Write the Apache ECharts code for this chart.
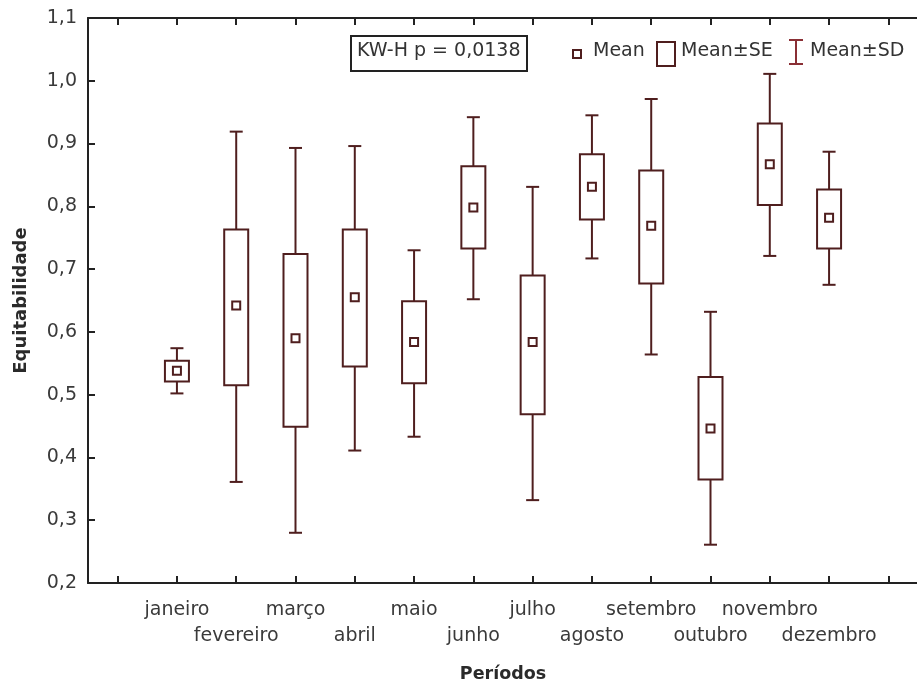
<!DOCTYPE html>
<html>
<head>
<meta charset="utf-8">
<script src="https://cdn.jsdelivr.net/npm/echarts@6/dist/echarts.min.js"></script>
<style>
    html, body { margin: 0; padding: 0; background: #fff; }
    #chart { width: 917px; height: 682px; }
</style>
</head>
<body>
<div id="chart"></div>
<script>
// first and last slots are empty, as in the original plot
var periods = ['', 'janeiro', 'fevereiro', 'março', 'abril', 'maio', 'junho',
    'julho', 'agosto', 'setembro', 'outubro', 'novembro', 'dezembro', ' '];
var means  = [0.538, 0.642, 0.590, 0.655, 0.584, 0.798, 0.584, 0.831, 0.769, 0.446, 0.867, 0.782];
var seLow  = [0.521, 0.515, 0.449, 0.545, 0.518, 0.733, 0.469, 0.779, 0.677, 0.365, 0.802, 0.733];
var seHigh = [0.554, 0.763, 0.724, 0.763, 0.649, 0.864, 0.690, 0.883, 0.857, 0.528, 0.932, 0.827];
var sdLow  = [0.502, 0.361, 0.280, 0.411, 0.433, 0.652, 0.332, 0.717, 0.564, 0.261, 0.721, 0.675];
var sdHigh = [0.574, 0.919, 0.893, 0.896, 0.730, 0.942, 0.831, 0.945, 0.971, 0.632, 1.011, 0.887];
var yTicks = { min: 0.2, max: 1.1, step: 0.1 };
var testLabel = 'KW-H p = 0,0138';

var boxColor = '#4f1e1e';
var font = 'DejaVu Sans';

var seriesData = [];
for (var i = 0; i < means.length; i++) {
    seriesData.push([i + 1, means[i], seLow[i], seHigh[i], sdLow[i], sdHigh[i]]);
}

function renderBox(params, api) {
    var x = api.value(0);
    var mean = api.coord([x, api.value(1)]);
    var cx = mean[0];
    var y = function (dim) { return api.coord([x, api.value(dim)])[1]; };
    var bw = 24, cw = 13, ms = 8;
    var st = { stroke: boxColor, lineWidth: 2, fill: null };
    return {
        type: 'group',
        children: [
            { type: 'line', shape: { x1: cx, y1: y(5), x2: cx, y2: y(3) }, style: st },
            { type: 'line', shape: { x1: cx, y1: y(2), x2: cx, y2: y(4) }, style: st },
            { type: 'line', shape: { x1: cx - cw / 2, y1: y(5), x2: cx + cw / 2, y2: y(5) }, style: st },
            { type: 'line', shape: { x1: cx - cw / 2, y1: y(4), x2: cx + cw / 2, y2: y(4) }, style: st },
            { type: 'rect', shape: { x: cx - bw / 2, y: y(3), width: bw, height: y(2) - y(3) },
                style: { stroke: boxColor, lineWidth: 2, fill: '#fff' } },
            { type: 'rect', shape: { x: cx - ms / 2, y: mean[1] - ms / 2, width: ms, height: ms }, style: st }
        ]
    };
}

var chart = echarts.init(document.getElementById('chart'));

var tickStyle = { show: true, inside: true, alignWithLabel: true, interval: 0, length: 7,
    lineStyle: { color: '#222', width: 2 } };

var option = {
    backgroundColor: '#fff',
    animation: false,
    grid: { left: 88, top: 18, bottom: 99, width: 830, outerBoundsMode: 'none' },
    xAxis: [
        {
            type: 'category',
            data: periods,
            position: 'bottom',
            name: 'Períodos',
            nameLocation: 'middle',
            nameGap: 82,
            nameTextStyle: { fontFamily: font, fontSize: 17.5, fontWeight: 'bold', color: '#2a2a2a' },
            axisLine: { lineStyle: { color: '#222', width: 2 } },
            axisTick: tickStyle,
            axisLabel: {
                interval: 0,
                margin: 14,
                fontFamily: font,
                fontSize: 19,
                lineHeight: 26,
                color: '#3a3a3a',
                formatter: function (v, idx) { return idx % 2 === 0 ? '\n' + v : v; }
            },
            splitLine: { show: false }
        },
        {
            type: 'category',
            data: periods,
            position: 'top',
            axisLine: { lineStyle: { color: '#222', width: 2 } },
            axisTick: tickStyle,
            axisLabel: { show: false },
            splitLine: { show: false }
        }
    ],
    yAxis: {
        type: 'value',
        min: yTicks.min,
        max: yTicks.max,
        interval: yTicks.step,
        name: 'Equitabilidade',
        nameLocation: 'middle',
        nameGap: 58,
        nameTextStyle: { fontFamily: font, fontSize: 18, fontWeight: 'bold', color: '#2a2a2a' },
        axisLine: { show: true, lineStyle: { color: '#222', width: 2 } },
        axisTick: { show: true, inside: true, length: 7, lineStyle: { color: '#222', width: 2 } },
        axisLabel: {
            margin: 11,
            fontFamily: font,
            fontSize: 19,
            color: '#3a3a3a',
            formatter: function (v) { return v.toFixed(1).replace('.', ','); }
        },
        splitLine: { show: false }
    },
    series: [{
        name: 'Mean±SE',
        type: 'custom',
        renderItem: renderBox,
        encode: { x: 0, y: [1, 2, 3, 4, 5] },
        data: seriesData,
        z: 3
    }],
    graphic: [
        // test result box
        { type: 'rect', left: 350, top: 35, shape: { width: 176, height: 35 },
            style: { fill: '#fff', stroke: '#222', lineWidth: 2 } },
        { type: 'text', left: 357, top: 42,
            style: { text: testLabel, fontFamily: font, fontSize: 19, fill: '#333' } },
        // legend
        { type: 'rect', left: 572, top: 49, shape: { width: 8, height: 8 },
            style: { fill: '#fff', stroke: boxColor, lineWidth: 2 } },
        { type: 'text', left: 593, top: 42,
            style: { text: 'Mean', fontFamily: font, fontSize: 19, fill: '#333' } },
        { type: 'rect', left: 656, top: 41, shape: { width: 18, height: 24 },
            style: { fill: '#fff', stroke: boxColor, lineWidth: 2 } },
        { type: 'text', left: 681, top: 42,
            style: { text: 'Mean±SE', fontFamily: font, fontSize: 19, fill: '#333' } },
        { type: 'line', shape: { x1: 796, y1: 40, x2: 796, y2: 64 },
            style: { stroke: '#8a2f35', lineWidth: 2 } },
        { type: 'line', shape: { x1: 789, y1: 40, x2: 803, y2: 40 },
            style: { stroke: '#8a2f35', lineWidth: 2 } },
        { type: 'line', shape: { x1: 789, y1: 64, x2: 803, y2: 64 },
            style: { stroke: '#8a2f35', lineWidth: 2 } },
        { type: 'text', left: 810, top: 42,
            style: { text: 'Mean±SD', fontFamily: font, fontSize: 19, fill: '#333' } }
    ]
};

chart.setOption(option);
</script>
</body>
</html>
